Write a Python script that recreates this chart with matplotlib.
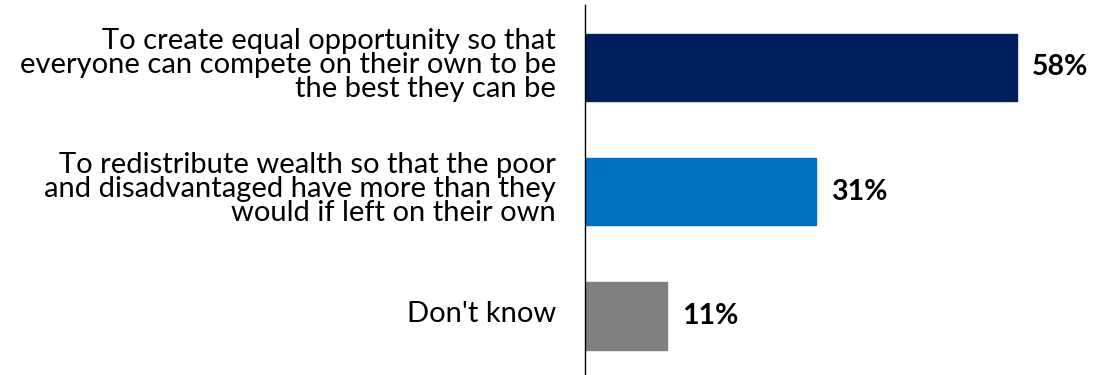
import matplotlib
matplotlib.use("Agg")
import matplotlib.pyplot as plt
from matplotlib.transforms import ScaledTranslation

# Survey answers, top to bottom
categories = [
    "To create equal opportunity so that\neveryone can compete on their own to be\nthe best they can be",
    "To redistribute wealth so that the poor\nand disadvantaged have more than they\nwould if left on their own",
    "Don't know",
]
values = [58, 31, 11]
bar_colors = ["#001F5F", "#0070C0", "#808080"]

plt.rcParams["font.family"] = ["Lato", "DejaVu Sans"]

fig = plt.figure(figsize=(11.11, 3.75), dpi=100)
ax = fig.add_axes([585 / 1111, 0, 526 / 1111, 370 / 375])

y = list(range(len(values)))
ax.barh(y, values, height=0.54, color=bar_colors, edgecolor=bar_colors,
        linewidth=1, joinstyle="round")

for yi, v in zip(y, values):
    ax.text(v + 2.0, yi, f"{v}%", va="center", ha="left",
            fontsize=20.5, fontweight="bold", color="black")

ax.set_xlim(0, 70.6)
ax.set_ylim(2.475, -0.503)
ax.set_yticks(y)
ax.set_yticklabels(categories, fontsize=21, linespacing=0.9, ha="right")
ax.tick_params(axis="y", length=0, pad=21)
ax.set_xticks([])

# labels sit a few pixels above the bar centre in the original
nudge = ScaledTranslation(0, 0.04, fig.dpi_scale_trans)
for lab in ax.get_yticklabels():
    lab.set_transform(lab.get_transform() + nudge)

for side in ["top", "right", "bottom"]:
    ax.spines[side].set_visible(False)
ax.spines["left"].set_color("black")
ax.spines["left"].set_linewidth(1.0)

fig.savefig("out.png", dpi=100)
